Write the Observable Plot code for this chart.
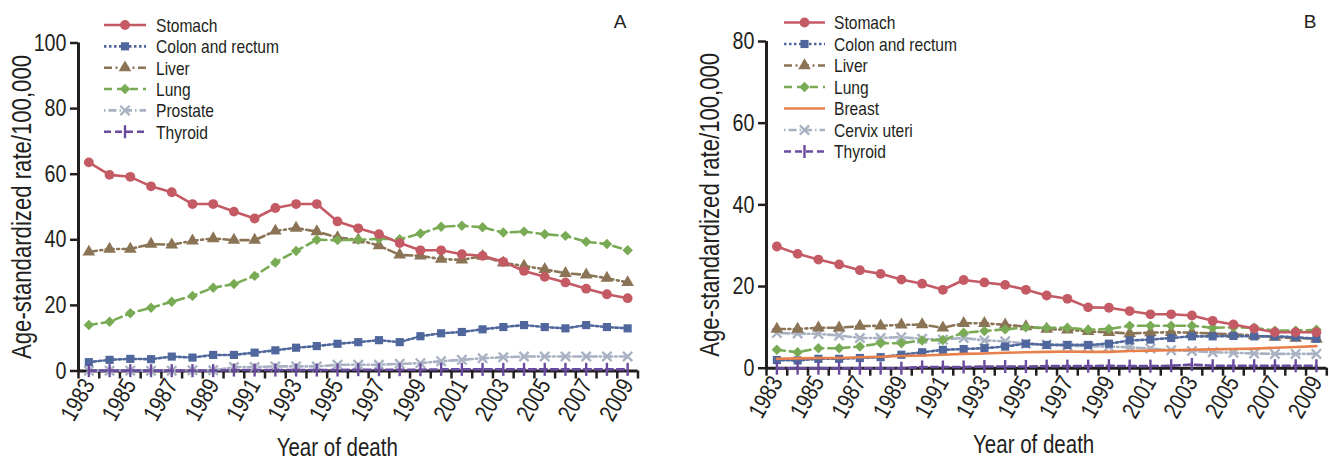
<!DOCTYPE html>
<html>
<head>
<meta charset="utf-8">
<script src="https://cdn.jsdelivr.net/npm/d3@7"></script>
<script src="https://cdn.jsdelivr.net/npm/@observablehq/plot@0.6"></script>
<style>
  html, body { margin: 0; padding: 0; background: #fff; }
  #wrap { position: relative; width: 1329px; height: 460px; overflow: hidden; }
  .panel { position: absolute; top: 0; }
</style>
</head>
<body>
<div id="wrap">
  <div id="panelA" class="panel" style="left:0px"></div>
  <div id="panelB" class="panel" style="left:660px"></div>
</div>
<script>
// ---------------- DATA ----------------
const years = [1983,1984,1985,1986,1987,1988,1989,1990,1991,1992,1993,1994,1995,1996,1997,1998,1999,2000,2001,2002,2003,2004,2005,2006,2007,2008,2009];
const xTickLabels = [1983,1985,1987,1989,1991,1993,1995,1997,1999,2001,2003,2005,2007,2009];
const yTicksA = [0,20,40,60,80,100];
const yTicksB = [0,20,40,60,80];

const cancersA = ["Stomach","Colon and rectum","Liver","Lung","Prostate","Thyroid"];
const cancersB = ["Stomach","Colon and rectum","Liver","Lung","Breast","Cervix uteri","Thyroid"];

// Panel A (men)
const stomachA  = [63.6,59.8,59.2,56.3,54.5,50.9,50.9,48.6,46.5,49.7,50.9,50.9,45.6,43.5,41.7,39.0,36.8,36.8,35.6,35.1,33.3,30.5,28.7,27.0,25.1,23.4,22.2];
const colonA    = [2.7,3.4,3.7,3.6,4.4,4.1,4.9,4.9,5.6,6.3,7.1,7.6,8.3,8.8,9.4,8.8,10.6,11.5,11.9,12.7,13.4,14.0,13.4,13.0,14.0,13.4,13.0];
const liverA    = [36.3,37.2,37.2,38.7,38.5,39.7,40.4,39.9,39.9,42.7,43.6,42.5,40.7,40.0,38.2,35.4,35.1,34.1,33.9,35.0,33.0,32.0,31.0,29.8,29.3,28.3,27.0];
const lungA     = [14.0,15.0,17.6,19.3,21.1,22.9,25.4,26.5,29.0,33.1,36.6,40.0,39.9,40.0,40.3,40.2,41.9,44.0,44.3,43.8,42.2,42.5,41.7,41.2,39.4,38.7,36.8];
const prostateA = [0.1,0.1,0.1,0.1,0.1,0.2,0.2,1.2,1.2,1.4,1.4,1.4,1.9,1.9,1.9,2.2,2.4,3.0,3.4,3.9,4.2,4.4,4.4,4.4,4.4,4.4,4.4];
const thyroidA  = [0.1,0.1,0.1,0.1,0.1,0.1,0.1,0.3,0.3,0.3,0.3,0.3,0.3,0.4,0.4,0.4,0.4,0.5,0.5,0.5,0.5,0.5,0.5,0.5,0.5,0.5,0.5];

// Panel B (women)
const stomachB  = [29.8,28.0,26.6,25.4,24.0,23.1,21.7,20.7,19.2,21.6,21.0,20.4,19.2,17.8,17.0,14.9,14.8,14.0,13.2,13.2,12.9,11.6,10.7,9.7,8.8,8.8,8.8];
const colonB    = [2.0,1.9,2.3,2.3,2.5,2.7,3.3,3.9,4.5,4.7,4.9,5.3,6.0,5.7,5.7,5.7,6.0,6.8,7.0,7.4,7.8,7.8,7.9,7.8,7.8,7.6,7.2];
const liverB    = [9.6,9.6,9.9,9.9,10.3,10.4,10.6,10.7,9.9,11.0,11.0,10.6,10.2,9.6,9.4,9.0,8.8,8.5,8.7,8.8,8.7,8.5,8.3,8.0,7.6,7.4,7.2];
const lungB     = [4.5,3.9,4.9,4.9,5.3,6.1,6.1,6.8,6.9,8.7,9.1,9.5,10.0,9.9,9.9,9.4,9.6,10.4,10.4,10.4,10.4,9.9,10.0,9.9,9.2,9.2,9.4];
const breastB   = [2.3,2.4,2.5,2.5,2.7,2.8,3.0,3.1,3.3,3.5,3.6,3.8,3.9,4.0,4.1,4.0,4.0,4.2,4.3,4.4,4.5,4.6,4.7,4.8,5.0,5.2,5.4];
const cervixB   = [8.6,8.5,8.4,8.0,7.4,7.4,7.6,7.2,7.0,7.4,6.8,6.6,6.0,5.8,5.5,5.4,5.3,5.1,4.8,4.4,4.2,3.9,3.8,3.6,3.5,3.5,3.5];
const thyroidB  = [0.0,0.0,0.0,0.0,0.0,0.0,0.0,0.3,0.3,0.3,0.4,0.4,0.4,0.5,0.5,0.5,0.6,0.5,0.5,0.6,0.9,0.6,0.6,0.6,0.6,0.6,0.6];

// ---------------- STYLE ----------------
const INK = "#231f20";
const FONT = "'Liberation Sans', Arial, sans-serif";
const NARROW = 0.82; // horizontal squeeze to mimic a condensed face
const symbolBar = { draw(ctx, size) { const h = Math.sqrt(size / Math.PI) * 1.45; ctx.moveTo(0, -h); ctx.lineTo(0, h); } };
const styles = {
  "Stomach":          { color: "#c45a64", dash: null,           symbol: "circle",   d3s: d3.symbolCircle,   r: 4.9, filled: true },
  "Colon and rectum": { color: "#4f679c", dash: "2.5,2.5",      symbol: "square",   d3s: d3.symbolSquare,   r: 4.6, filled: true },
  "Liver":            { color: "#8a7455", dash: "8,3.5,2,3.5",  symbol: "triangle", d3s: d3.symbolTriangle, r: 4.7, filled: true },
  "Lung":             { color: "#79ab55", dash: "8,5",          symbol: "diamond2", d3s: d3.symbolDiamond2, r: 4.7, filled: true },
  "Prostate":         { color: "#a9b2c3", dash: "1.5,3,8,3",    symbol: "times",    d3s: d3.symbolTimes,    r: 4.3, filled: false },
  "Cervix uteri":     { color: "#a9b2c3", dash: "1.5,3,8,3",    symbol: "times",    d3s: d3.symbolTimes,    r: 4.3, filled: false },
  "Thyroid":          { color: "#6a4c9f", dash: "7,4",          symbol: symbolBar,  d3s: symbolBar,         r: 4.5, filled: false },
  "Breast":           { color: "#e8804c", dash: null,           symbol: null,       d3s: null,              r: 0,   filled: false }
};
const drawOrder = ["Prostate","Cervix uteri","Liver","Lung","Colon and rectum","Breast","Thyroid","Stomach"];

function squeeze(svg) {
  svg.querySelectorAll("text").forEach(t => {
    if (t.classList.contains("keep")) return;
    const parts = t.querySelectorAll("tspan");
    const list = parts.length ? Array.from(parts) : [t];
    list.forEach(el => {
      const len = el.getComputedTextLength();
      if (len > 0) {
        el.setAttribute("textLength", (len * NARROW).toFixed(2));
        el.setAttribute("lengthAdjust", "spacingAndGlyphs");
      }
    });
  });
}

function makePanel(cfg) {
  const rows = [];
  cfg.names.forEach((n, k) => cfg.values[k].forEach((v, i) => rows.push({ name: n, year: years[i], value: v })));
  // category-style axis: tick marks sit between years, labels at the years
  const bounds = years.map(y => y - 0.5).concat([years[years.length - 1] + 0.5]);
  const xDomain = [bounds[0], bounds[bounds.length - 1]];
  const yMax = cfg.yTicks[cfg.yTicks.length - 1];
  const marks = [
    Plot.axisX({ ticks: bounds, tickSize: 8, strokeWidth: 2.5, tickFormat: () => "", label: null }),
    Plot.axisX({ ticks: xTickLabels, tickSize: 0, tickPadding: 10, tickRotate: -60, fontSize: 24,
                 tickFormat: d => String(d), label: null }),
    Plot.axisY({ ticks: cfg.yTicks, tickSize: 8, strokeWidth: 2.5, tickPadding: 4, fontSize: 24, label: null }),
    Plot.ruleY([0], { stroke: INK, strokeWidth: 3 }),
    Plot.ruleX([xDomain[0]], { y1: 0, y2: yMax, stroke: INK, strokeWidth: 3 }),
    Plot.text(["Age-standardized rate/100,000"], { frameAnchor: "left", textAnchor: "middle", lineAnchor: "middle",
                 rotate: -90, dx: -56, fontSize: 27, fill: INK }),
    Plot.text(["Year of death"], { frameAnchor: "bottom", textAnchor: "middle", lineAnchor: "middle",
                 dy: 77, dx: cfg.titleDx, fontSize: 25, fill: INK })
  ];
  for (const n of drawOrder) {
    if (!cfg.names.includes(n)) continue;
    const st = styles[n];
    const d = rows.filter(r => r.name === n);
    marks.push(Plot.line(d, { x: "year", y: "value", stroke: st.color, strokeWidth: 2.6, strokeDasharray: st.dash }));
    if (st.symbol) {
      marks.push(Plot.dot(d, { x: "year", y: "value", symbol: st.symbol, r: st.r,
        fill: st.filled ? st.color : "none", stroke: st.filled ? "none" : st.color, strokeWidth: st.filled ? 0 : 2.4 }));
    }
  }
  const svg = Plot.plot({
    width: cfg.width, height: 460,
    marginLeft: cfg.mL, marginRight: cfg.mR, marginTop: cfg.mT, marginBottom: cfg.mB,
    x: { type: "linear", domain: xDomain },
    y: { type: "linear", domain: [0, yMax] },
    style: { fontFamily: FONT, color: INK, background: "white", overflow: "visible" },
    marks
  });
  // legend & panel letter
  const L = cfg.legend;
  const g = d3.select(svg).append("g").attr("font-family", FONT).attr("font-size", 19).attr("fill", INK).attr("text-anchor", "start");
  cfg.names.forEach((n, k) => {
    const st = styles[n];
    const y = L.y0 + k * L.dy;
    g.append("line").attr("x1", L.x1).attr("x2", L.x2).attr("y1", y).attr("y2", y)
      .attr("stroke", st.color).attr("stroke-width", 2.6).attr("stroke-dasharray", st.dash);
    if (st.d3s) {
      g.append("path").attr("transform", `translate(${(L.x1 + L.x2) / 2},${y})`)
        .attr("d", d3.symbol(st.d3s, Math.PI * st.r * st.r)())
        .attr("fill", st.filled ? st.color : "none").attr("stroke", st.filled ? "none" : st.color).attr("stroke-width", 2.4);
    }
    g.append("text").attr("x", L.xt).attr("y", y).attr("dy", "0.36em").text(n);
  });
  g.append("text").attr("class", "keep").attr("x", cfg.letter.x).attr("y", cfg.letter.y).attr("dy", "0.36em").attr("text-anchor", "middle")
    .attr("font-size", 19).text(cfg.letter.t);
  document.getElementById(cfg.el).appendChild(svg);
  squeeze(svg);
}

makePanel({
  el: "panelA", width: 660, mL: 78, mR: 22.5, mT: 42.5, mB: 89.5, titleDx: -21,
  names: cancersA, values: [stomachA, colonA, liverA, lungA, prostateA, thyroidA], yTicks: yTicksA,
  legend: { x1: 104, x2: 146, xt: 156, y0: 25, dy: 21.35 },
  letter: { t: "A", x: 620, y: 21 }
});
makePanel({
  el: "panelB", width: 669, mL: 106, mR: 2.7, mT: 41, mB: 92.3, titleDx: -13,
  names: cancersB, values: [stomachB, colonB, liverB, lungB, breastB, cervixB, thyroidB], yTicks: yTicksB,
  legend: { x1: 124, x2: 165, xt: 174, y0: 22.5, dy: 21.5 },
  letter: { t: "B", x: 650, y: 21 }
});
</script>
</body>
</html>
